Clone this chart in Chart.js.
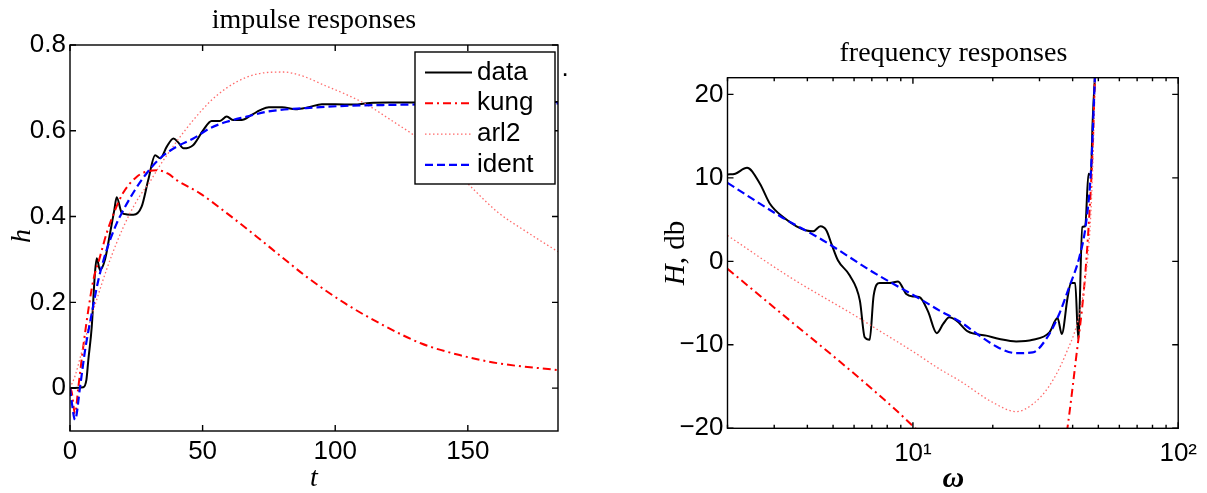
<!DOCTYPE html>
<html>
<head>
<meta charset="utf-8">
<script src="https://cdn.jsdelivr.net/npm/chart.js@4.4.1/dist/chart.umd.min.js"></script>
<style>
  html, body { margin: 0; padding: 0; background: #fff; }
  body { width: 1207px; height: 493px; position: relative; overflow: hidden; }
  canvas { position: absolute; top: 0; }
  #impulseChart { left: 0; }
  #freqChart { left: 600px; }
</style>
</head>
<body>
<canvas id="impulseChart" width="600" height="493"></canvas>
<canvas id="freqChart" width="607" height="493"></canvas>
<script>
// ---- impulse responses (left panel) ----
const impTicksX = [0, 50, 100, 150];
const impTicksY = [0, 0.2, 0.4, 0.6, 0.8];
const impLabelsY = ['0', '0.2', '0.4', '0.6', '0.8'];

const dataT = [0, 5, 6.2, 6.9, 8.2, 9.4, 10.1, 11.3, 13.2, 15.1, 16.7, 17.6, 19.5, 21.5, 23.9, 27, 29.5, 32.1, 34, 36.5, 39, 40.8, 42.8, 46.5, 50.3, 53.4, 56.5, 59.1, 61.6, 64.7, 68.5, 71.7, 75, 80, 85, 90, 95, 100, 107, 113, 120, 140, 160, 184];
const dataH = [0, 0.002, 0.02, 0.065, 0.143, 0.268, 0.303, 0.275, 0.30, 0.361, 0.415, 0.445, 0.409, 0.405, 0.404, 0.423, 0.485, 0.543, 0.536, 0.563, 0.582, 0.573, 0.559, 0.567, 0.602, 0.623, 0.623, 0.633, 0.625, 0.625, 0.637, 0.648, 0.655, 0.655, 0.650, 0.655, 0.662, 0.662, 0.661, 0.665, 0.666, 0.666, 0.667, 0.667];

const kungT = [0, 0.6, 1.9, 3.1, 5, 6.9, 8.8, 11.3, 13.8, 17, 20, 25.2, 29, 33, 37, 40.2, 49, 59.1, 70.4, 80, 89.1, 103.6, 118, 132.5, 146.9, 161.3, 184];
const kungH = [0, -0.008, -0.059, 0, 0.097, 0.182, 0.252, 0.306, 0.361, 0.415, 0.455, 0.493, 0.505, 0.508, 0.5, 0.485, 0.454, 0.408, 0.353, 0.305, 0.26, 0.198, 0.147, 0.104, 0.077, 0.058, 0.042];

const arl2T = [0, 2, 4, 6, 8, 10, 14, 18, 22, 26, 30, 34, 40.2, 46.5, 52.8, 59.1, 66.6, 73, 80.5, 88, 96.3, 104, 112.2, 121, 129.6, 140, 152.7, 161.3, 172, 184];
const arl2H = [0, 0.03, 0.075, 0.12, 0.165, 0.205, 0.28, 0.345, 0.40, 0.445, 0.48, 0.52, 0.575, 0.625, 0.668, 0.700, 0.725, 0.735, 0.737, 0.727, 0.705, 0.685, 0.66, 0.625, 0.59, 0.54, 0.46, 0.41, 0.365, 0.318];

const identT = [0, 0.6, 1.9, 3.8, 5.7, 8.2, 10.7, 13.8, 17.6, 19.5, 24.5, 28.9, 34, 40.2, 46.5, 52.8, 59.1, 66.6, 74.7, 89.1, 103.6, 118, 140, 160, 184];
const identH = [0, -0.03, -0.074, 0.003, 0.089, 0.174, 0.252, 0.322, 0.384, 0.408, 0.462, 0.501, 0.536, 0.563, 0.582, 0.606, 0.621, 0.633, 0.645, 0.653, 0.658, 0.66, 0.662, 0.663, 0.664];

// ---- frequency responses (right panel) ----
const freqTicksX = [10, 100];
const freqLabelsX = ['10\u00b9', '10\u00b2'];
const freqMinorX = [2, 3, 4, 5, 6, 7, 8, 9, 20, 30, 40, 50, 60, 70, 80, 90];
const freqTicksY = [-20, -10, 0, 10, 20];

const fDataW = [2, 2.14, 2.37, 2.65, 2.89, 3.24, 3.64, 3.97, 4.21, 4.48, 4.72, 4.93, 5.22, 5.78, 6.31, 6.58, 6.87, 7.11, 7.49, 8.17, 8.79, 9.44, 10, 10.6, 11.4, 12.3, 13, 13.7, 14.6, 16.1, 18.9, 21.2, 24.5, 28.3, 32.7, 35.1, 36.4, 38.3, 39.4, 40.9, 42, 43.5, 44.6, 45.9, 46.9, 47.5, 48.6];
const fDataH = [10.4, 10.5, 11.2, 9.3, 6.9, 5.3, 4.2, 3.7, 3.6, 4.2, 3.7, 2.1, 0.1, -1.7, -4.7, -9.1, -9.4, -4.1, -2.6, -2.6, -2.4, -3.9, -4.2, -4.3, -6.0, -8.6, -7.5, -6.7, -7.1, -8.4, -8.9, -9.3, -9.6, -9.4, -8.5, -6.8, -8.7, -4.3, -2.6, -2.6, -9.3, 4.1, 4.2, 10.5, 10.3, 16.1, 22.5];

const fKungW = [2, 3.44, 5.3, 8.41, 10.2, 10.5, 20, 38.0, 38.3, 41.1, 44.2, 46.1, 47.5, 48.6];
const fKungH = [-0.9, -7.1, -12.0, -17.5, -20.0, -20.4, null, -20.5, -19.8, -11.9, -3.1, 4.9, 12.9, 22.5];

const fArl2W = [2, 3.44, 6.12, 7.64, 10, 12.6, 15, 20, 24.5, 28.3, 32.7, 37.7, 42.4, 45.5, 46.9, 47.9, 48.6];
const fArl2H = [3.1, -1.9, -6.6, -8.5, -10.8, -12.9, -14.3, -16.9, -18.0, -17.1, -14.9, -11.1, -6.3, 0.1, 6.1, 14.1, 22.5];

const fIdentW = [2, 3.16, 4.59, 7.08, 10.9, 12.6, 15, 18, 21.2, 24.5, 28.3, 31.8, 35.6, 38.8, 42.4, 44.9, 46.9, 48.6];
const fIdentH = [9.4, 5.4, 2.5, -1.3, -4.7, -5.9, -7.2, -9.0, -10.4, -11.0, -10.9, -9.3, -6.3, -3.1, 0.5, 4.5, 10.9, 22.5];

const SANS = '"Liberation Sans", Arial, sans-serif';
const SERIF = '"Liberation Serif", "Times New Roman", serif';
Chart.defaults.font.family = SANS;
Chart.defaults.color = '#000';

const styles = {
  data:  { color: '#000000', width: 2,   dash: [] },
  kung:  { color: '#ff0000', width: 2,   dash: [8, 4, 2, 4] },
  arl2:  { color: '#ff6a6a', width: 1.3, dash: [1.5, 2.5] },
  ident: { color: '#0000ff', width: 2.2, dash: [8, 4] }
};

function pts(xs, ys) { return xs.map((x, i) => ({ x: x, y: ys[i] })); }

function series(name, xs, ys, order) {
  const s = styles[name];
  return {
    label: name, data: pts(xs, ys), order: order,
    borderColor: s.color, borderWidth: s.width, borderDash: s.dash,
    pointRadius: 0, fill: false, cubicInterpolationMode: 'monotone', spanGaps: false
  };
}

// draw a line of text made of runs with different fonts, centred at (cx, cy)
function drawRuns(ctx, runs, cx, cy, rot) {
  ctx.save();
  ctx.translate(cx, cy);
  if (rot) ctx.rotate(rot);
  ctx.textBaseline = 'middle';
  ctx.textAlign = 'left';
  ctx.fillStyle = '#000';
  let total = 0;
  runs.forEach(r => { ctx.font = r.font; r.w = ctx.measureText(r.t).width; total += r.w; });
  let x = -total / 2;
  runs.forEach(r => { ctx.font = r.font; ctx.fillText(r.t, x, 0); x += r.w; });
  ctx.restore();
}

// frame box, inward ticks, titles and (optional) legend
function decorPlugin(cfg) {
  return {
    id: 'decor',
    afterDatasetsDraw(chart) {
      const { ctx, chartArea: a, scales: { x, y } } = chart;
      ctx.save();
      ctx.strokeStyle = '#000';
      ctx.lineWidth = 1.4;
      ctx.setLineDash([]);
      ctx.beginPath();
      cfg.xTicks.forEach(v => {
        const px = x.getPixelForValue(v);
        ctx.moveTo(px, a.bottom); ctx.lineTo(px, a.bottom - 6);
        ctx.moveTo(px, a.top); ctx.lineTo(px, a.top + 6);
      });
      (cfg.xMinor || []).forEach(v => {
        const px = x.getPixelForValue(v);
        ctx.moveTo(px, a.bottom); ctx.lineTo(px, a.bottom - 3.5);
        ctx.moveTo(px, a.top); ctx.lineTo(px, a.top + 3.5);
      });
      cfg.yTicks.forEach(v => {
        const py = y.getPixelForValue(v);
        ctx.moveTo(a.left, py); ctx.lineTo(a.left + 6, py);
        ctx.moveTo(a.right, py); ctx.lineTo(a.right - 6, py);
      });
      ctx.stroke();
      ctx.strokeRect(a.left, a.top, a.right - a.left, a.bottom - a.top);

      if (cfg.legend) {
        const L = cfg.legend;
        ctx.fillStyle = '#fff';
        ctx.fillRect(L.x, L.y, L.w, L.h);
        ctx.lineWidth = 1.4;
        ctx.strokeStyle = '#000';
        ctx.strokeRect(L.x, L.y, L.w, L.h);
        L.items.forEach((name, i) => {
          const s = styles[name];
          const yy = L.y + L.first + i * L.step;
          ctx.beginPath();
          ctx.strokeStyle = s.color;
          ctx.lineWidth = s.width;
          ctx.setLineDash(s.dash);
          ctx.moveTo(L.x + 10, yy);
          ctx.lineTo(L.x + 57, yy);
          ctx.stroke();
          ctx.setLineDash([]);
          ctx.fillStyle = '#000';
          ctx.font = '26px ' + SANS;
          ctx.textBaseline = 'middle';
          ctx.textAlign = 'left';
          ctx.fillText(name, L.x + 62, yy);
        });
      }
      ctx.restore();

      cfg.texts.forEach(t => drawRuns(ctx, t.runs, t.x, t.y, t.rot));
    }
  };
}

function baseOptions(pad) {
  return {
    responsive: false,
    animation: false,
    devicePixelRatio: 1,
    layout: { padding: pad },
    plugins: { legend: { display: false }, tooltip: { enabled: false }, title: { display: false } },
    scales: {}
  };
}

const noGrid = { display: false, drawTicks: false };

// ---- left chart ----
const impOpts = baseOptions({ left: 0, top: 45, right: 42, bottom: 0 });
impOpts.scales = {
  x: {
    type: 'linear', min: 0, max: 184,
    grid: noGrid, border: { display: false },
    afterBuildTicks: s => { s.ticks = impTicksX.map(v => ({ value: v })); },
    afterFit: s => { s.height = 62; },
    ticks: { font: { size: 26 }, padding: 5, maxRotation: 0, autoSkip: false, callback: v => String(v) }
  },
  y: {
    type: 'linear', min: -0.1, max: 0.8,
    grid: noGrid, border: { display: false },
    afterBuildTicks: s => { s.ticks = impTicksY.map(v => ({ value: v })); },
    afterFit: s => { s.width = 70; },
    ticks: { font: { size: 26 }, padding: 4, autoSkip: false, callback: (v, i) => impLabelsY[i] }
  }
};

new Chart(document.getElementById('impulseChart'), {
  type: 'line',
  data: {
    datasets: [
      series('data', dataT, dataH, 4),
      series('kung', kungT, kungH, 3),
      series('arl2', arl2T, arl2H, 2),
      series('ident', identT, identH, 1)
    ]
  },
  options: impOpts,
  plugins: [decorPlugin({
    xTicks: impTicksX, yTicks: impTicksY,
    legend: { x: 415, y: 52, w: 140, h: 132, first: 20.5, step: 30.8, items: ['data', 'kung', 'arl2', 'ident'] },
    texts: [
      { runs: [{ t: 'impulse responses', font: '28px ' + SERIF }], x: 314, y: 21 },
      { runs: [{ t: 't', font: 'italic 28px ' + SERIF }], x: 314, y: 479 },
      { runs: [{ t: 'h', font: 'italic 28px ' + SERIF }], x: 23, y: 236, rot: -Math.PI / 2 },
      { runs: [{ t: '.', font: '26px ' + SANS }], x: 565, y: 69 }
    ]
  })]
});

// ---- right chart ----
const freqOpts = baseOptions({ left: 0, top: 77.7, right: 27.7, bottom: 0 });
freqOpts.scales = {
  x: {
    type: 'logarithmic', min: 2, max: 100,
    grid: noGrid, border: { display: false },
    afterBuildTicks: s => { s.ticks = freqTicksX.map(v => ({ value: v })); },
    afterFit: s => { s.height = 64.7; },
    ticks: { font: { size: 26 }, padding: 10, maxRotation: 0, autoSkip: false, callback: (v, i) => freqLabelsX[i] }
  },
  y: {
    type: 'linear', min: -20, max: 22,
    grid: noGrid, border: { display: false },
    afterBuildTicks: s => { s.ticks = freqTicksY.map(v => ({ value: v })); },
    afterFit: s => { s.width = 127.5; },
    ticks: { font: { size: 26 }, padding: 4, autoSkip: false, callback: v => (v < 0 ? '\u2212' + Math.abs(v) : String(v)) }
  }
};

new Chart(document.getElementById('freqChart'), {
  type: 'line',
  data: {
    datasets: [
      series('data', fDataW, fDataH, 4),
      series('kung', fKungW, fKungH, 3),
      series('arl2', fArl2W, fArl2H, 2),
      series('ident', fIdentW, fIdentH, 1)
    ]
  },
  options: freqOpts,
  plugins: [decorPlugin({
    xTicks: freqTicksX, xMinor: freqMinorX, yTicks: freqTicksY,
    texts: [
      { runs: [{ t: 'frequency responses', font: '28px ' + SERIF }], x: 353.4, y: 54 },
      { runs: [{ t: '\u03c9', font: 'italic bold 30px ' + SERIF }], x: 353.4, y: 479 },
      { runs: [{ t: 'H', font: 'italic 29px ' + SERIF }, { t: ', db', font: '29px ' + SERIF }], x: 76, y: 253, rot: -Math.PI / 2 }
    ]
  })]
});
</script>
</body>
</html>
